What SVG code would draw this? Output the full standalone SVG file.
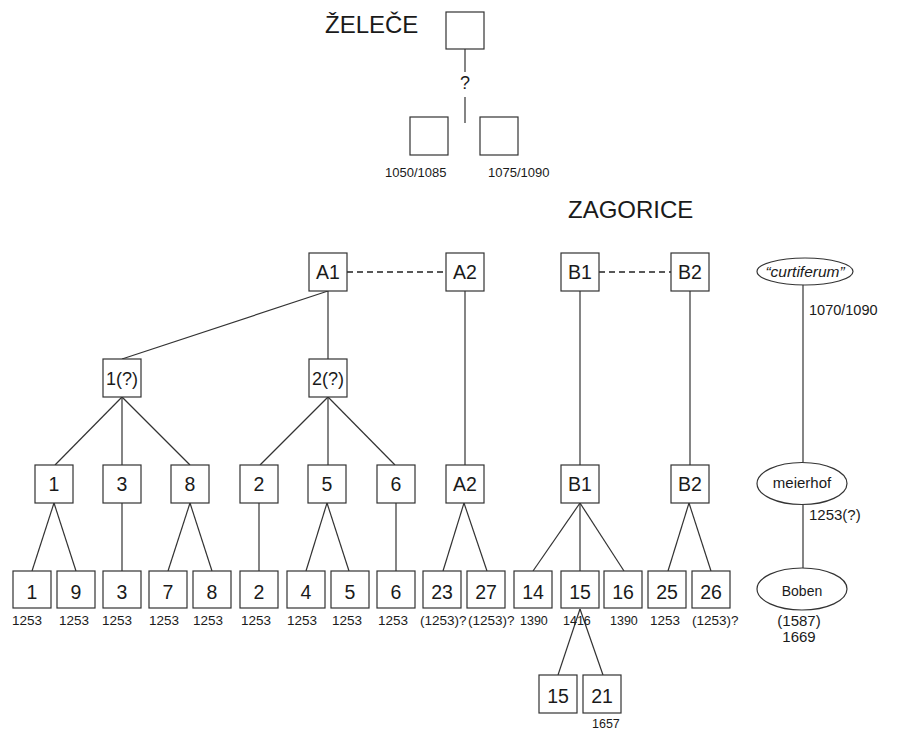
<svg xmlns="http://www.w3.org/2000/svg" width="897" height="731" viewBox="0 0 897 731">
<style>
text{font-family:"Liberation Sans",Arial,sans-serif;fill:#1a1a1a}
.b{fill:#fff;stroke:#333;stroke-width:1.2}
.l{stroke:#333;stroke-width:1.2;fill:none}
.d{stroke:#222;stroke-width:1.3;stroke-dasharray:6 4;fill:none}
.t{font-size:19.5px;text-anchor:middle}
.s{font-size:13.5px}
.x{font-size:12.5px}
.m{font-size:15px}
.h{font-size:24px}
</style>
<rect width="897" height="731" fill="#fff"/>
<g id="titles">
<text class="h" x="325" y="33">ŽELEČE</text>
<text class="h" x="568" y="218">ZAGORICE</text>
</g>
<g id="connectors">
<line class="l" x1="465" y1="49" x2="465" y2="72"/>
<line class="l" x1="465" y1="97" x2="465" y2="123"/>
<line class="d" x1="347" y1="272" x2="446" y2="272"/>
<line class="d" x1="599" y1="272" x2="671" y2="272"/>
<line class="l" x1="328" y1="291" x2="122" y2="359"/>
<line class="l" x1="328" y1="291" x2="328" y2="359"/>
<line class="l" x1="465" y1="291" x2="465" y2="465"/>
<line class="l" x1="580" y1="291" x2="580" y2="465"/>
<line class="l" x1="690" y1="291" x2="690" y2="465"/>
<line class="l" x1="803" y1="285" x2="803" y2="462"/>
<line class="l" x1="803" y1="505" x2="803" y2="568"/>
<line class="l" x1="122" y1="397" x2="55" y2="465"/>
<line class="l" x1="122" y1="397" x2="122" y2="465"/>
<line class="l" x1="122" y1="397" x2="190" y2="465"/>
<line class="l" x1="328" y1="397" x2="260" y2="465"/>
<line class="l" x1="328" y1="397" x2="328" y2="465"/>
<line class="l" x1="328" y1="397" x2="395" y2="465"/>
<line class="l" x1="54" y1="503" x2="32" y2="571"/>
<line class="l" x1="54" y1="503" x2="76" y2="571"/>
<line class="l" x1="122" y1="503" x2="122" y2="571"/>
<line class="l" x1="190" y1="503" x2="168" y2="571"/>
<line class="l" x1="190" y1="503" x2="212" y2="571"/>
<line class="l" x1="259" y1="503" x2="259" y2="571"/>
<line class="l" x1="327" y1="503" x2="306" y2="571"/>
<line class="l" x1="327" y1="503" x2="349" y2="571"/>
<line class="l" x1="396" y1="503" x2="396" y2="571"/>
<line class="l" x1="464" y1="503" x2="443" y2="571"/>
<line class="l" x1="464" y1="503" x2="487" y2="571"/>
<line class="l" x1="580" y1="503" x2="533" y2="571"/>
<line class="l" x1="580" y1="503" x2="580" y2="571"/>
<line class="l" x1="580" y1="503" x2="624" y2="571"/>
<line class="l" x1="689" y1="503" x2="668" y2="571"/>
<line class="l" x1="689" y1="503" x2="711" y2="571"/>
<line class="l" x1="580" y1="609" x2="558" y2="675"/>
<line class="l" x1="580" y1="609" x2="603" y2="675"/>
</g>
<g id="zelece-top"><rect class="b" x="446" y="12" width="38" height="37"/></g>
<g id="zelece-q"><text class="t" x="465" y="89" style="font-size:18px">?</text></g>
<g id="zelece-l"><rect class="b" x="410" y="117" width="38" height="38"/><text class="s" x="385" y="177" style="font-size:13px">1050/1085</text></g>
<g id="zelece-r"><rect class="b" x="480" y="117" width="38" height="38"/><text class="s" x="488" y="177" style="font-size:13px">1075/1090</text></g>

<g id="A1"><rect class="b" x="309" y="253" width="38" height="38"/><text class="t" x="328" y="279">A1</text></g>
<g id="A2"><rect class="b" x="446" y="253" width="38" height="38"/><text class="t" x="465" y="279">A2</text></g>
<g id="B1"><rect class="b" x="561" y="253" width="38" height="38"/><text class="t" x="580" y="279">B1</text></g>
<g id="B2"><rect class="b" x="671" y="253" width="38" height="38"/><text class="t" x="690" y="279">B2</text></g>
<g id="curtiferum"><ellipse class="b" cx="805" cy="271.5" rx="48" ry="13.5"/><text x="805" y="277" style="font-size:15.5px;font-style:italic;text-anchor:middle">“curtiferum”</text><text class="m" x="809" y="315" style="font-size:14.5px">1070/1090</text></g>

<g id="n1q"><rect class="b" x="103" y="359" width="38" height="38"/><text class="t" x="122" y="385" style="font-size:18px">1(?)</text></g>
<g id="n2q"><rect class="b" x="309" y="359" width="38" height="38"/><text class="t" x="328" y="385" style="font-size:18px">2(?)</text></g>

<g id="m1"><rect class="b" x="35" y="465" width="38" height="38"/><text class="t" x="54" y="491">1</text></g>
<g id="m3"><rect class="b" x="103" y="465" width="38" height="38"/><text class="t" x="122" y="491">3</text></g>
<g id="m8"><rect class="b" x="171" y="465" width="38" height="38"/><text class="t" x="190" y="491">8</text></g>
<g id="m2"><rect class="b" x="240" y="465" width="38" height="38"/><text class="t" x="259" y="491">2</text></g>
<g id="m5"><rect class="b" x="308" y="465" width="38" height="38"/><text class="t" x="327" y="491">5</text></g>
<g id="m6"><rect class="b" x="377" y="465" width="38" height="38"/><text class="t" x="396" y="491">6</text></g>
<g id="mA2"><rect class="b" x="446" y="465" width="38" height="38"/><text class="t" x="465" y="491">A2</text></g>
<g id="mB1"><rect class="b" x="561" y="465" width="38" height="38"/><text class="t" x="580" y="491">B1</text></g>
<g id="mB2"><rect class="b" x="671" y="465" width="38" height="38"/><text class="t" x="690" y="491">B2</text></g>
<g id="meierhof"><ellipse class="b" cx="802" cy="483.5" rx="45" ry="21"/><text class="m" x="802" y="488" style="text-anchor:middle">meierhof</text><text class="m" x="809" y="520">1253(?)</text></g>

<g id="b1"><rect class="b" x="13" y="571" width="38" height="37"/><text class="t" x="32" y="599">1</text><text class="s" x="12" y="625">1253</text></g>
<g id="b9"><rect class="b" x="57" y="571" width="38" height="37"/><text class="t" x="76" y="599">9</text><text class="s" x="59" y="625">1253</text></g>
<g id="b3"><rect class="b" x="103" y="571" width="38" height="37"/><text class="t" x="122" y="599">3</text><text class="s" x="102" y="625">1253</text></g>
<g id="b7"><rect class="b" x="149" y="571" width="38" height="37"/><text class="t" x="168" y="599">7</text><text class="s" x="149" y="625">1253</text></g>
<g id="b8"><rect class="b" x="193" y="571" width="38" height="37"/><text class="t" x="212" y="599">8</text><text class="s" x="193" y="625">1253</text></g>
<g id="b2"><rect class="b" x="240" y="571" width="38" height="37"/><text class="t" x="259" y="599">2</text><text class="s" x="241" y="625">1253</text></g>
<g id="b4"><rect class="b" x="287" y="571" width="38" height="37"/><text class="t" x="306" y="599">4</text><text class="s" x="287" y="625">1253</text></g>
<g id="b5"><rect class="b" x="331" y="571" width="38" height="37"/><text class="t" x="350" y="599">5</text><text class="s" x="332" y="625">1253</text></g>
<g id="b6"><rect class="b" x="377" y="571" width="38" height="37"/><text class="t" x="396" y="599">6</text><text class="s" x="378" y="625">1253</text></g>
<g id="b23"><rect class="b" x="423" y="571" width="38" height="37"/><text class="t" x="442" y="599">23</text><text class="s" x="420" y="625">(1253)?</text></g>
<g id="b27"><rect class="b" x="467" y="571" width="38" height="37"/><text class="t" x="486" y="599">27</text><text class="s" x="468" y="625">(1253)?</text></g>
<g id="b14"><rect class="b" x="514" y="571" width="38" height="37"/><text class="t" x="533" y="599">14</text><text class="x" x="520" y="625">1390</text></g>
<g id="b15"><rect class="b" x="561" y="571" width="38" height="37"/><text class="t" x="580" y="599">15</text><text class="x" x="563" y="625">1416</text></g>
<g id="b16"><rect class="b" x="604" y="571" width="38" height="37"/><text class="t" x="623" y="599">16</text><text class="x" x="610" y="625">1390</text></g>
<g id="b25"><rect class="b" x="648" y="571" width="38" height="37"/><text class="t" x="667" y="599">25</text><text class="s" x="650" y="625">1253</text></g>
<g id="b26"><rect class="b" x="692" y="571" width="38" height="37"/><text class="t" x="711" y="599">26</text><text class="s" x="692" y="625">(1253)?</text></g>
<g id="boben"><ellipse class="b" cx="802" cy="589" rx="45" ry="21"/><text class="m" x="802" y="596" style="text-anchor:middle;font-size:14px">Boben</text><text class="m" x="799" y="626" style="text-anchor:middle">(1587)</text><text class="m" x="799" y="642" style="text-anchor:middle">1669</text></g>

<g id="c15"><rect class="b" x="539" y="675" width="38" height="38"/><text class="t" x="558" y="703">15</text></g>
<g id="c21"><rect class="b" x="583" y="675" width="38" height="38"/><text class="t" x="602" y="703">21</text><text class="x" x="592" y="728">1657</text></g>
</svg>
